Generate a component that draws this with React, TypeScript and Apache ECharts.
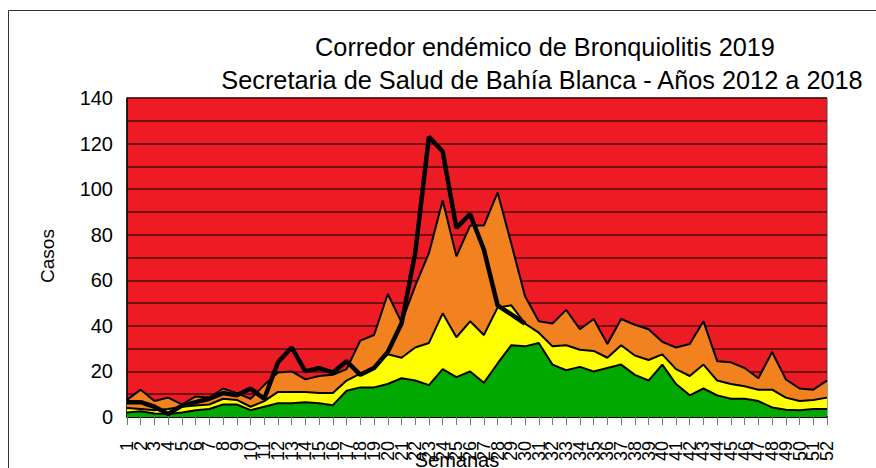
import React, { useEffect, useRef } from "react";
import * as echarts from "echarts";

const weeks: string[] = Array.from({ length: 52 }, (_, i) => String(i + 1));

const upperQ3: number[] = [
  7.5, 12, 7, 8.5, 5.5, 9, 8.5, 12.5, 10.5, 8, 14, 19.5, 20, 16.5, 18, 18.5, 21,
  33.5, 36, 54, 41.5, 57.5, 72, 95, 70.5, 84, 84, 98.5, 76, 53, 42, 41, 47, 38.5,
  43, 32, 43, 40.5, 38.5, 33, 30.5, 32, 42, 24.5, 24, 21.5, 17, 28.5, 16.5, 12.5,
  12, 16,
];

const median: number[] = [
  4, 3.5, 3, 3.5, 4.5, 5, 5.5, 8, 7.5, 4.5, 7, 11, 11, 11, 10.5, 10.5, 16, 19, 22,
  27.5, 26, 30.5, 32.5, 45.5, 35, 42, 36, 48, 49, 41, 37, 31, 31.5, 29.5, 29, 26,
  31.5, 27, 25, 27.5, 21, 18, 23, 16, 14.5, 13.5, 12, 12, 8.5, 7, 7.5, 8.5,
];

const lowerQ1: number[] = [
  2, 2.5, 1.5, 1.3, 2, 3, 3.5, 5.5, 5.5, 3, 4.5, 6, 6, 6.5, 6, 5.2, 11.5, 13, 13,
  14.5, 17, 16, 14, 21, 17.5, 20, 15, 23.5, 31.5, 31, 32.5, 23, 20.5, 22, 20,
  21.5, 23, 18.5, 16, 23, 14.5, 9.5, 12.5, 9.5, 8, 8, 7, 4.2, 3.2, 3, 3.5, 3.5,
];

const cases2019: number[] = [
  6.5, 6.5, 4.5, 1.3, 5, 6.5, 8, 10.5, 9.5, 12.5, 8, 24, 30.5, 20, 21.5, 19.5,
  24.5, 18.5, 21.5, 28.5, 41, 72, 123, 116.5, 83, 89, 73.5, 49, 45, 41,
];

const titleLine1 = "Corredor endémico de Bronquiolitis 2019";
const titleLine2 = "Secretaria de Salud de Bahía Blanca - Años 2012 a 2018";
const yAxisTitle = "Casos";
const xAxisTitle = "Semanas";

const FONT = "'Liberation Sans', Arial, sans-serif";

export default function App() {
  const ref = useRef<HTMLDivElement>(null);

  useEffect(() => {
    document.body.style.margin = "0";
    if (!ref.current) return;
    const chart = echarts.init(ref.current, null, { renderer: "svg" });
    const areaSeries = (name: string, data: number[], color: string) => ({
      name,
      type: "line",
      data,
      showSymbol: false,
      symbol: "none",
      lineStyle: { color: "#000", width: 2 },
      areaStyle: { color, opacity: 1 },
      itemStyle: { color },
    });
    chart.setOption({
      animation: false,
      backgroundColor: "#fff",
      textStyle: { fontFamily: FONT },
      grid: {
        left: 127,
        right: 49,
        top: 98,
        bottom: 51,
        show: true,
        backgroundColor: "#ED1C24",
        borderColor: "#444",
        borderWidth: 1,
      },
      xAxis: {
        type: "category",
        data: weeks,
        boundaryGap: false,
        axisLine: { show: true, lineStyle: { color: "#000", width: 2 } },
        axisTick: {
          show: true,
          interval: 0,
          length: 8,
          lineStyle: { color: "#777", width: 1 },
        },
        axisLabel: {
          interval: 0,
          rotate: 90,
          margin: 24,
          fontSize: 18,
          color: "#000",
          fontFamily: FONT,
        },
        splitLine: { show: false },
      },
      yAxis: {
        type: "value",
        min: 0,
        max: 140,
        interval: 10,
        axisLine: { show: true, lineStyle: { color: "#000", width: 1.5 } },
        axisTick: { show: false },
        axisLabel: {
          margin: 14,
          fontSize: 20,
          color: "#000",
          fontFamily: FONT,
          formatter: (v: number) => (v % 20 === 0 ? String(v) : ""),
        },
        splitLine: { show: true, lineStyle: { color: "#4a0a0c", width: 1.5 } },
      },
      graphic: [
        {
          type: "rect",
          shape: { x: 8.5, y: 10.5, width: 900, height: 500 },
          style: { fill: "none", stroke: "#333", lineWidth: 1 },
          silent: true,
        },
        {
          type: "text",
          x: 545,
          y: 47,
          style: {
            text: titleLine1,
            fontSize: 25.3,
            fontFamily: FONT,
            fill: "#000",
            align: "center",
            verticalAlign: "middle",
          },
        },
        {
          type: "text",
          x: 542,
          y: 80,
          style: {
            text: titleLine2,
            fontSize: 25.3,
            fontFamily: FONT,
            fill: "#000",
            align: "center",
            verticalAlign: "middle",
          },
        },
        {
          type: "text",
          x: 47,
          y: 256,
          rotation: Math.PI / 2,
          style: {
            text: yAxisTitle,
            fontSize: 19,
            fontFamily: FONT,
            fill: "#000",
            align: "center",
            verticalAlign: "middle",
          },
        },
        {
          type: "text",
          x: 457,
          y: 460,
          style: {
            text: xAxisTitle,
            fontSize: 20,
            fontFamily: FONT,
            fill: "#000",
            align: "center",
            verticalAlign: "middle",
          },
        },
      ],
      series: [
        areaSeries("Q3", upperQ3, "#F28220"),
        areaSeries("Mediana", median, "#FFFF00"),
        areaSeries("Q1", lowerQ1, "#00A800"),
        {
          name: "2019",
          type: "line",
          data: cases2019,
          showSymbol: false,
          symbol: "none",
          lineStyle: { color: "#000", width: 4.5 },
          itemStyle: { color: "#000" },
          z: 5,
        },
      ],
    });
    return () => chart.dispose();
  }, []);

  return (
    <div
      ref={ref}
      style={{ position: "fixed", left: 0, top: 0, width: 876, height: 468 }}
    />
  );
}
